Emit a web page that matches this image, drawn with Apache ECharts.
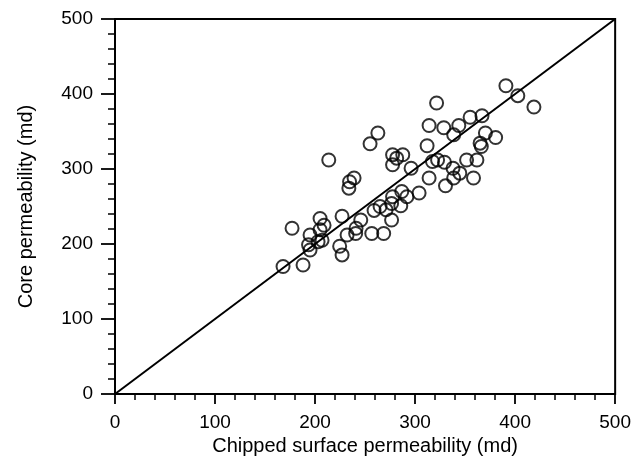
<!DOCTYPE html>
<html>
<head>
<meta charset="utf-8">
<script src="https://cdn.jsdelivr.net/npm/echarts@6/dist/echarts.min.js"></script>
<style>
  html, body { margin: 0; padding: 0; background: #fff; }
  #main { width: 634px; height: 467px; }
</style>
</head>
<body>
<div id="main"></div>
<script>
// chipped surface permeability (md)
var chipped = [168, 188, 177, 195, 193.5, 195, 203, 207, 205, 209, 205, 213.7, 224.6, 227, 227,
    233.8, 234.5, 239, 232, 240.6, 241, 245.7, 255, 262.8, 256.7, 268.6, 259, 265, 271, 276.5,
    277.5, 276.5, 277.5, 277.5, 281.6, 287.7, 286.7, 285.7, 291.8, 296, 304, 312, 314, 314,
    317.4, 322.5, 321.5, 328.7, 329.4, 330.4, 337.9, 338.6, 338.6, 343.7, 344.7, 351.5, 355,
    358.4, 361.8, 366.2, 365, 366.9, 370.3, 380.5, 390.8, 402.7, 418.8];
// core permeability (md)
var core = [170, 172, 221, 212, 199, 192, 203, 205, 234, 225, 219, 312, 197, 185.5, 237,
    274.5, 283, 288, 212, 214, 221, 232, 333.6, 348, 214, 214, 244.7, 250, 245.6, 254,
    263, 232, 319, 305.6, 314.5, 319, 270, 251, 263, 301, 268, 331, 358, 288,
    310, 312, 388, 355, 309, 277.6, 301, 345.6, 288, 358, 294.5, 312, 369,
    288, 312, 330, 334.5, 371, 348, 342, 411, 397.7, 382.6];
// 1:1 line
var fitLine = [[0, 0], [500, 500]];
var ticks = [0, 100, 200, 300, 400, 500];

var points = [];
for (var i = 0; i < chipped.length; i++) {
    points.push([chipped[i], core[i]]);
}

var font = 'Liberation Sans, Arial, sans-serif';
// common axis settings, ticks outside
function makeAxis(name, gap, labelMargin, tickLen, minorLen) {
    return {
        type: 'value',
        min: ticks[0],
        max: ticks[ticks.length - 1],
        interval: 100,
        name: name,
        nameLocation: 'middle',
        nameGap: gap,
        nameTextStyle: {color: '#000', fontSize: 20, fontFamily: font},
        axisLine: {show: true, onZero: false, lineStyle: {color: '#000', width: 2}},
        axisTick: {show: true, inside: false, length: tickLen, lineStyle: {color: '#000', width: 1.8}},
        minorTick: {show: true, splitNumber: 5, length: minorLen, lineStyle: {color: '#000', width: 1.5}},
        axisLabel: {color: '#000', fontSize: 19, fontFamily: font, margin: labelMargin},
        splitLine: {show: false}
    };
}

var myChart = echarts.init(document.getElementById('main'), null, {renderer: 'canvas'});
var option = {
    animation: false,
    backgroundColor: '#fff',
    grid: {
        left: 115, right: 18, top: 19, bottom: 73,
        show: true, borderColor: '#000', borderWidth: 2
    },
    xAxis: makeAxis('Chipped surface permeability (md)', 40, 19, 10, 6),
    yAxis: makeAxis('Core permeability (md)', 79, 22, 14, 7),
    series: [
        {
            type: 'line',
            data: fitLine,
            symbol: 'none',
            lineStyle: {color: '#000', width: 2},
            z: 1
        },
        {
            type: 'scatter',
            data: points,
            symbol: 'circle',
            symbolSize: 13,
            itemStyle: {color: 'rgba(0,0,0,0)', borderColor: '#000', borderWidth: 2},
            z: 2
        }
    ]
};
myChart.setOption(option);
</script>
</body>
</html>
